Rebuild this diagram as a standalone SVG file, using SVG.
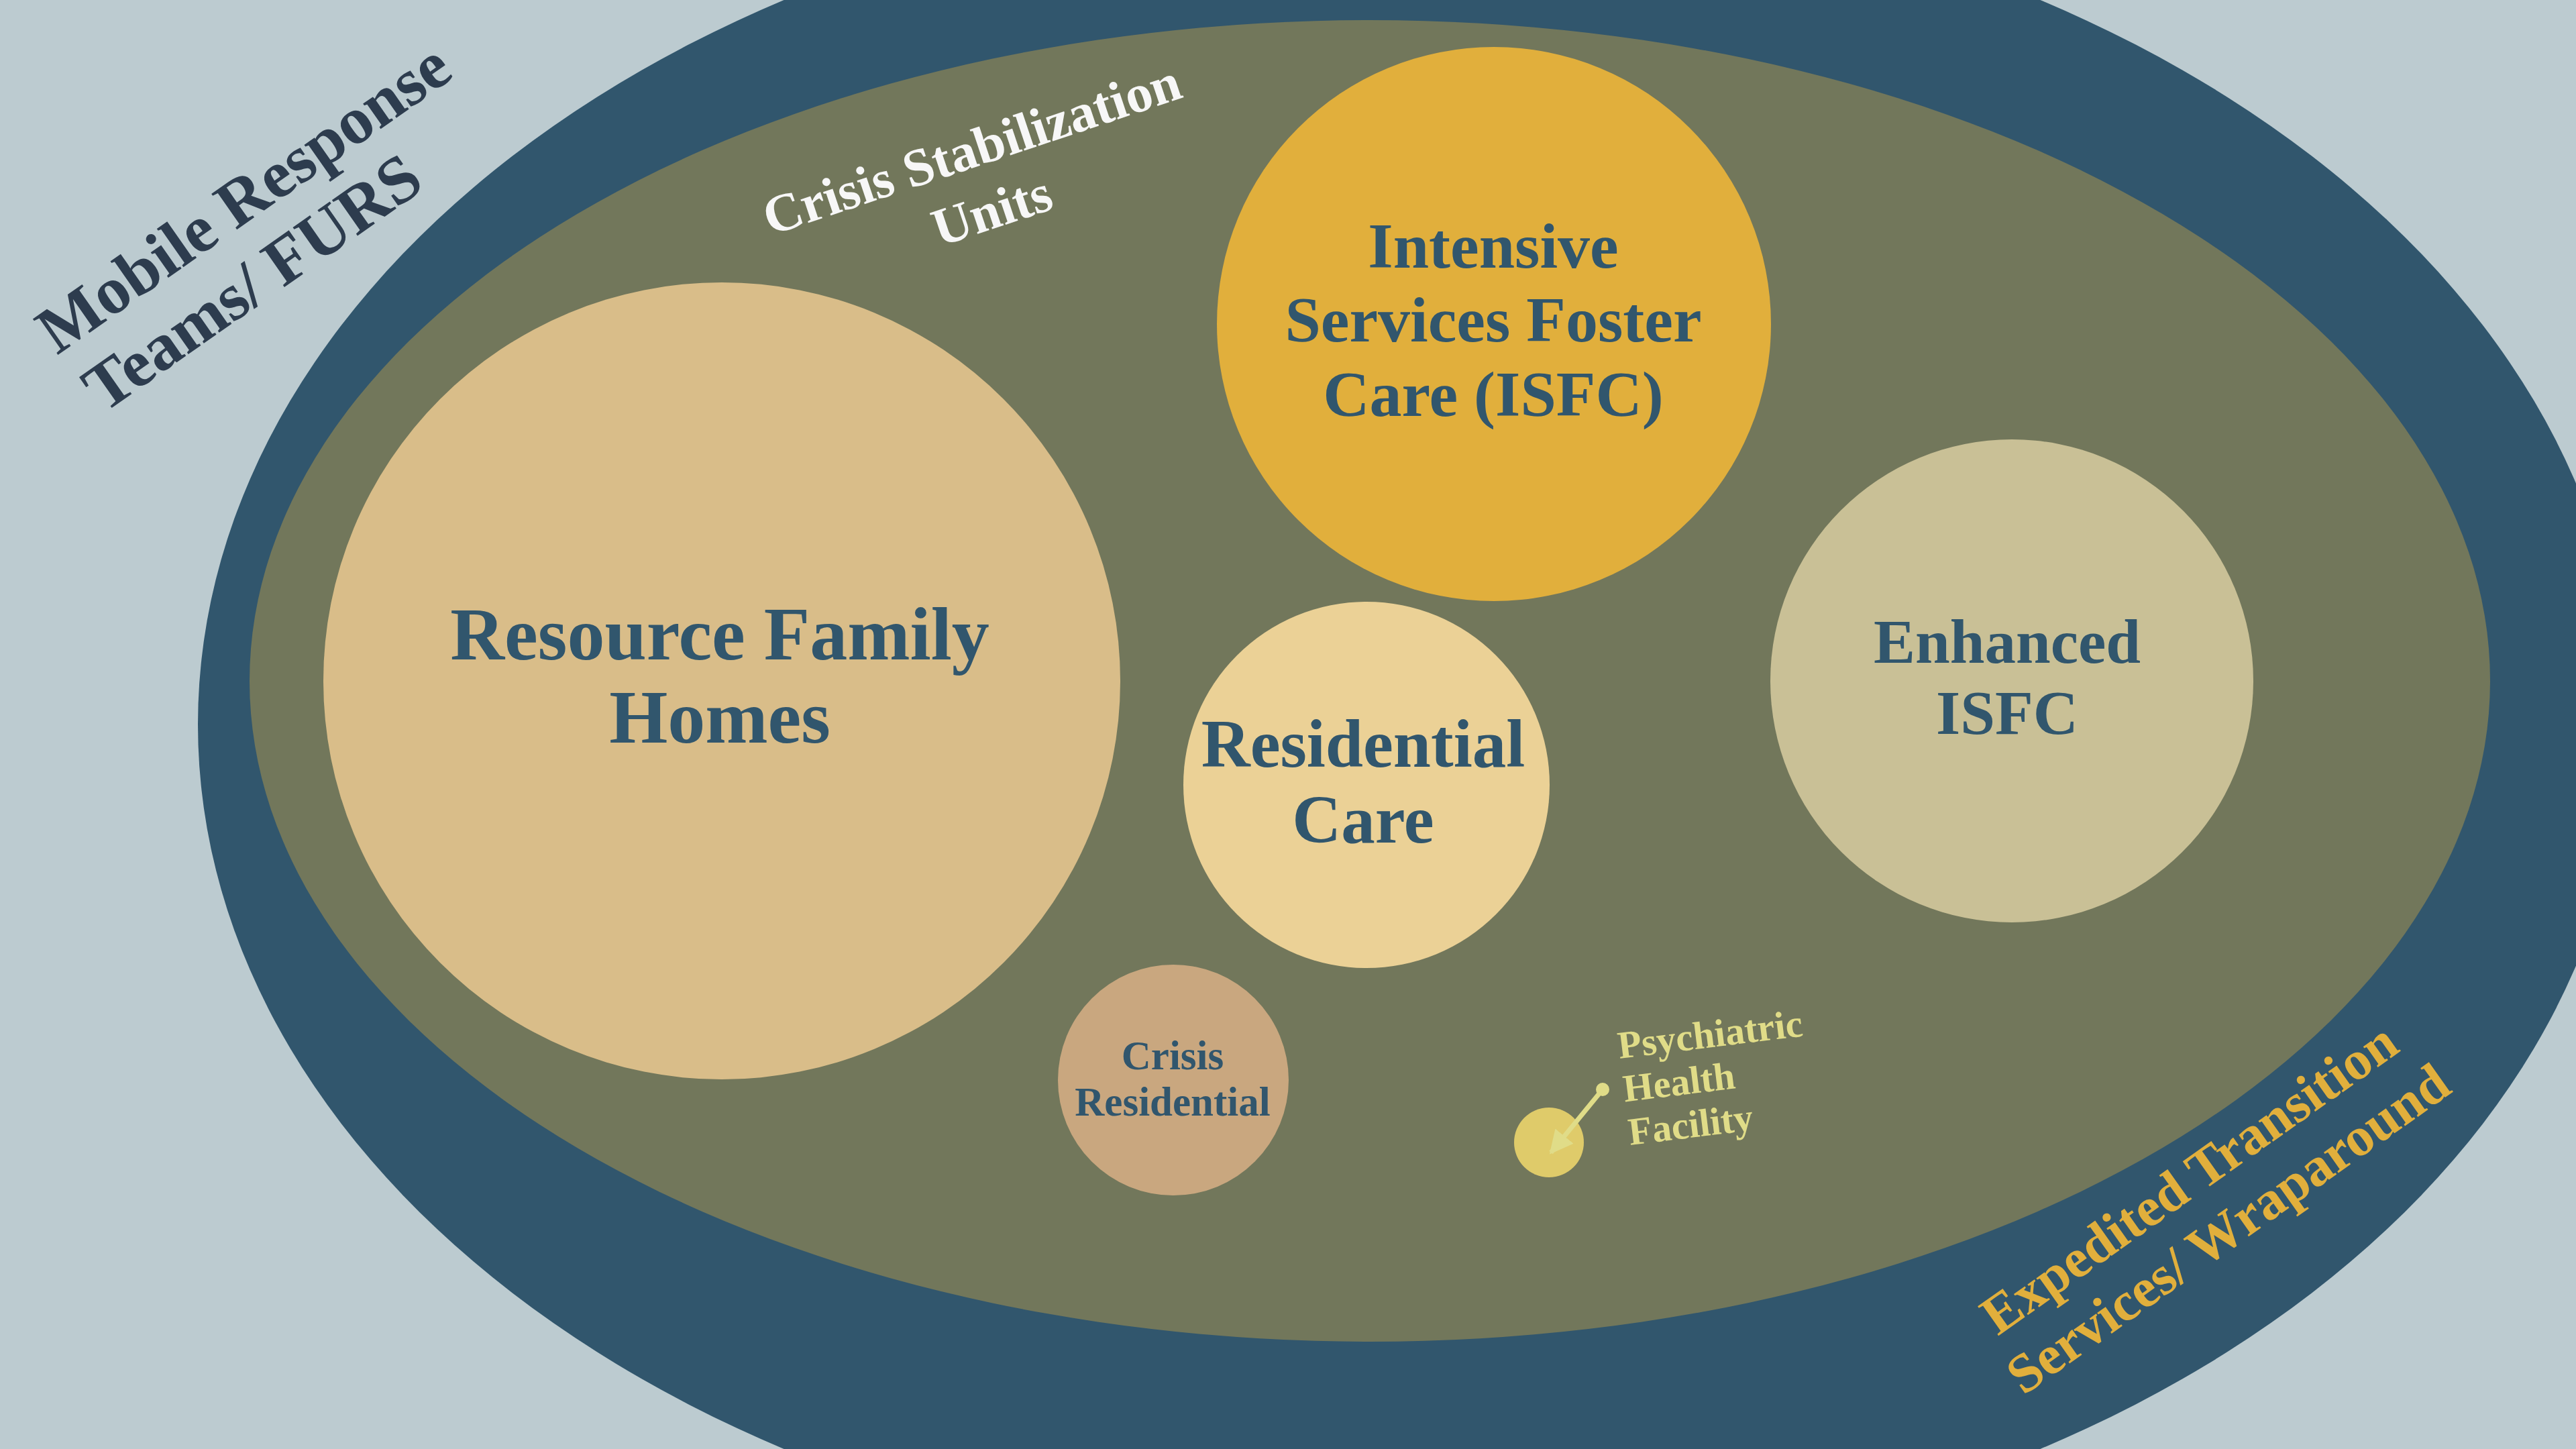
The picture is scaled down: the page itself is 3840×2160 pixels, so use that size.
<svg xmlns="http://www.w3.org/2000/svg" width="3840" height="2160" viewBox="0 0 3840 2160">
<style>
  text { font-family: "Liberation Serif", "DejaVu Serif", serif; font-weight: bold; }
  .lbl { fill: #31566D; text-anchor: middle; }
  .mob { fill: #2D3C4E; text-anchor: middle; font-size: 100px; }
  .csu { fill: #F7F7F7; text-anchor: middle; font-size: 80px; }
  .exp { fill: #E1AF3C; text-anchor: middle; font-size: 82px; }
  .phf { fill: #E0DC88; font-size: 58px; }
</style>
<defs>
  <marker id="ah" viewBox="0 0 10 10" refX="9" refY="5" markerWidth="5" markerHeight="5" markerUnits="strokeWidth" orient="auto">
    <path d="M0,0 L10,5 L0,10 z" fill="#E0DC88"/>
  </marker>
</defs>
<rect width="3840" height="2160" fill="#BCCBD0"/>
<g id="outer-ring">
  <ellipse cx="2105" cy="1080" rx="1810" ry="1262" fill="#31566D"/>
  <text class="mob" x="382" y="322" transform="rotate(-35 382 322)">Mobile Response</text>
  <text class="mob" x="395" y="448" transform="rotate(-35 395 448)">Teams/ FURS</text>
  <text class="exp" x="3279" y="1779" transform="rotate(-35.3 3279 1779)">Expedited Transition</text>
  <text class="exp" x="3337" y="1854" transform="rotate(-35.3 3337 1854)">Services/ Wraparound</text>
</g>
<g id="inner-ring">
  <ellipse cx="2042" cy="1015" rx="1670" ry="985" fill="#72775B"/>
  <text class="csu" x="1457" y="248" transform="rotate(-18.5 1457 248)">Crisis Stabilization</text>
  <text class="csu" x="1487" y="339" transform="rotate(-18.5 1487 339)">Units</text>
</g>
<g id="resource-family-homes">
  <circle cx="1076" cy="1015" r="594" fill="#D9BD89"/>
  <text class="lbl" font-size="112" x="1073" y="983">Resource Family</text>
  <text class="lbl" font-size="112" x="1073" y="1107">Homes</text>
</g>
<g id="isfc">
  <circle cx="2227" cy="483" r="413" fill="#E1AF3C"/>
  <text class="lbl" font-size="96" x="2226" y="399">Intensive</text>
  <text class="lbl" font-size="96" x="2226" y="509">Services Foster</text>
  <text class="lbl" font-size="96" x="2226" y="620">Care (ISFC)</text>
</g>
<g id="enhanced-isfc">
  <circle cx="2999" cy="1015" r="360" fill="#C9C096"/>
  <text class="lbl" font-size="93" x="2992" y="988">Enhanced</text>
  <text class="lbl" font-size="93" x="2992" y="1094">ISFC</text>
</g>
<g id="residential-care">
  <circle cx="2037" cy="1170" r="273" fill="#EBD196"/>
  <text class="lbl" font-size="101" x="2032" y="1143">Residential</text>
  <text class="lbl" font-size="101" x="2032" y="1256">Care</text>
</g>
<g id="crisis-residential">
  <circle cx="1749" cy="1610" r="172" fill="#C9A77F"/>
  <text class="lbl" font-size="61" x="1748" y="1594">Crisis</text>
  <text class="lbl" font-size="61" x="1748" y="1663">Residential</text>
</g>
<g id="psychiatric-health-facility">
  <circle cx="2309" cy="1703" r="52" fill="#DFCB6A"/>
  <g transform="rotate(-7 2414 1578)">
    <text class="phf" x="2414" y="1578">Psychiatric</text>
    <text class="phf" x="2414" y="1643">Health</text>
    <text class="phf" x="2414" y="1708">Facility</text>
  </g>
</g>
<g id="connectors">
  <circle cx="2389" cy="1624" r="10" fill="#E0DC88"/>
  <line x1="2389" y1="1624" x2="2312" y2="1718" stroke="#E0DC88" stroke-width="7" marker-end="url(#ah)"/>
</g>
</svg>
